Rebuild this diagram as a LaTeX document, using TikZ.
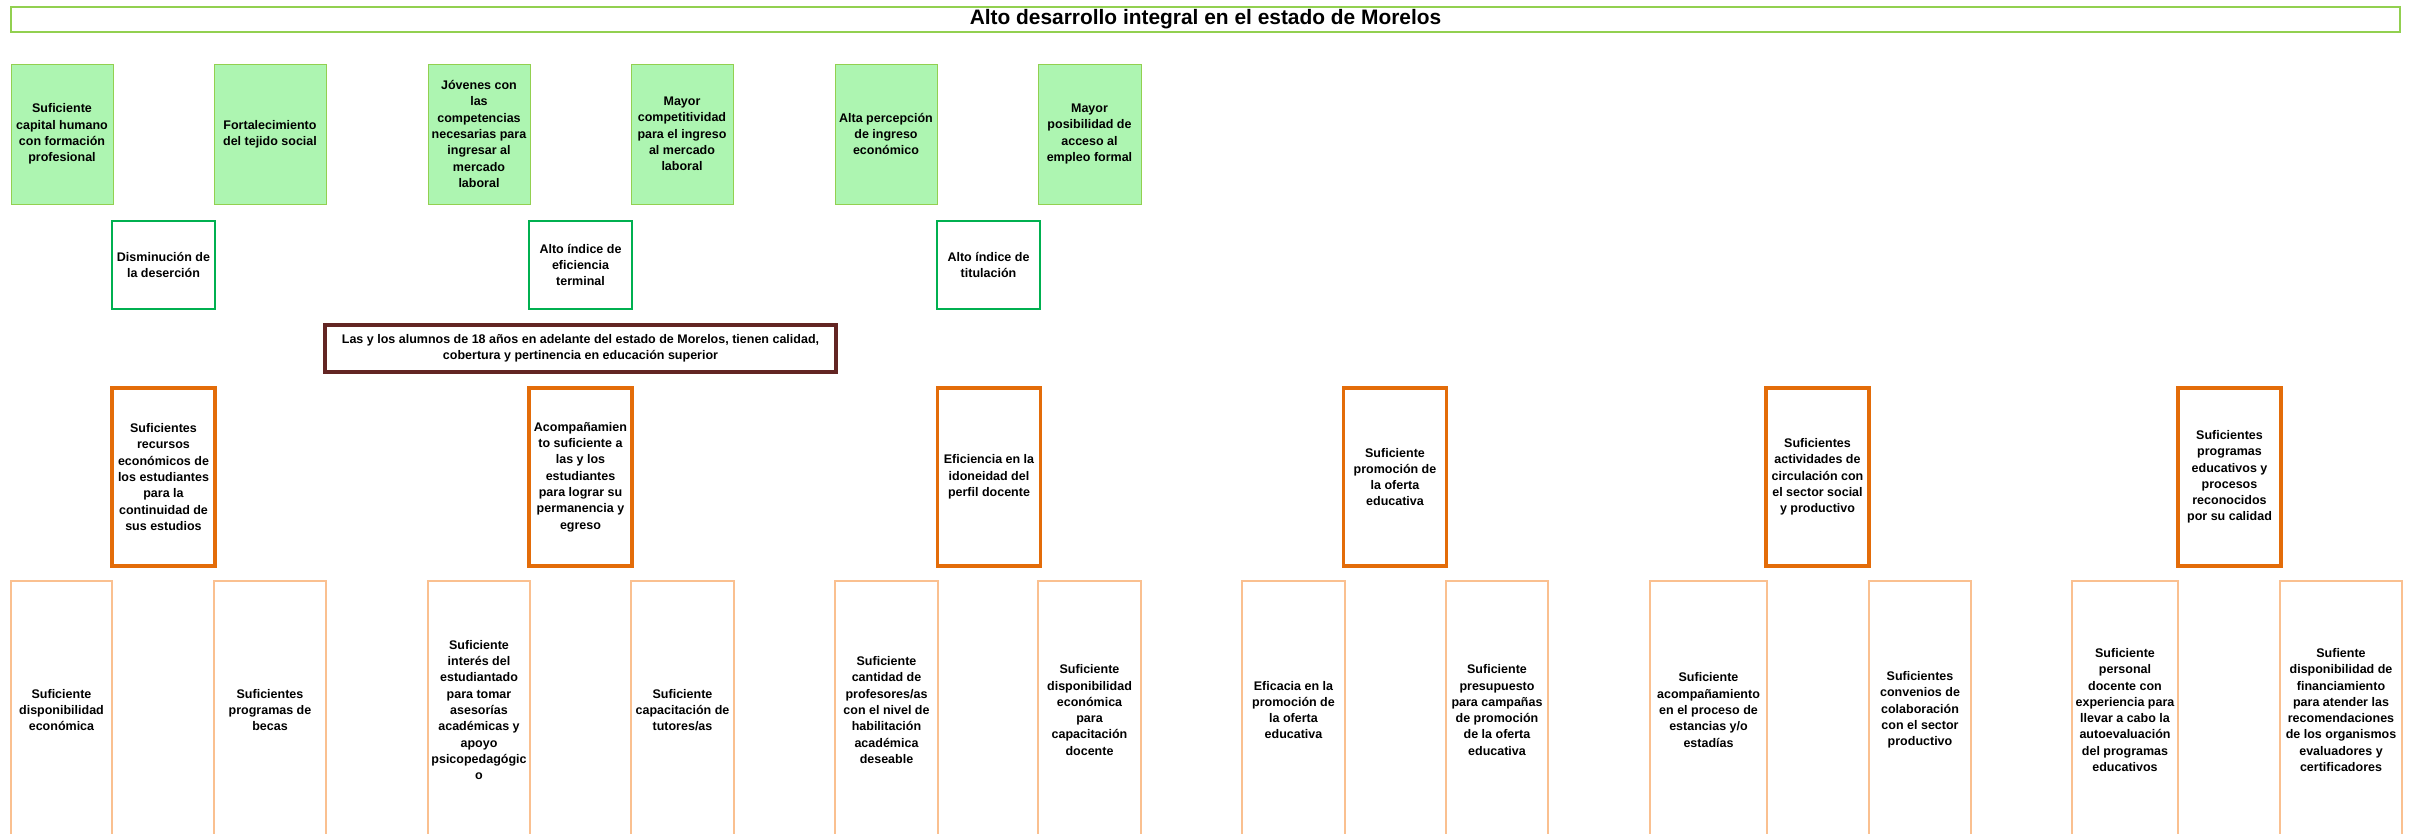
\documentclass[tikz,border=0pt]{standalone}
\usepackage{fontspec}
\setmainfont{Liberation Sans}
\usepackage{tikz}
\definecolor{verdefill}{HTML}{ADF5B1}
\definecolor{verdeline}{HTML}{92D050}
\definecolor{verdeosc}{HTML}{00B050}
\definecolor{naranja}{HTML}{E36C09}
\definecolor{naranjacl}{HTML}{FAC090}
\definecolor{guinda}{HTML}{632523}

\begin{document}
\begin{tikzpicture}[x=1pt,y=-1pt,
txt/.style={font=\fontsize{12.5}{16.3}\selectfont\bfseries,align=center,inner sep=0pt,rectangle},
titulo/.style={draw=verdeline,line width=1.2pt,font=\fontsize{20.9}{24}\selectfont\bfseries,inner sep=0pt},
efecto/.style={txt,draw=verdeline,fill=verdefill,line width=1pt,minimum height=140},
medio/.style={txt,draw=verdeosc,line width=2.8pt,minimum width=103,minimum height=88},
problema/.style={txt,draw=guinda,line width=3.3pt,minimum width=511,minimum height=47},
causa/.style={txt,draw=naranja,line width=3.3pt,minimum width=103,minimum height=178},
sub/.style={txt,draw=naranjacl,line width=1.1pt,minimum height=258}]

\useasboundingbox (0,0) rectangle (2411,833);
\clip (0,0) rectangle (2411,833);

% title
\node[titulo,minimum width=2389,minimum height=25] (tit) at (1205.5,19.5) {Alto desarrollo integral en el estado de Morelos};

% effects
\node[efecto,minimum width=102] (e1) at (62,134) {Suficiente\\capital humano\\con formación\\profesional};
\node[efecto,minimum width=112] (e2) at (270,134) {Fortalecimiento\\del tejido social};
\node[efecto,minimum width=102] (e3) at (479,134) {Jóvenes con\\las\\competencias\\necesarias para\\ingresar al\\mercado\\laboral};
\node[efecto,minimum width=102] (e4) at (682,134) {Mayor\\competitividad\\para el ingreso\\al mercado\\laboral};
\node[efecto,minimum width=102] (e5) at (886,134) {Alta percepción\\de ingreso\\económico};
\node[efecto,minimum width=103] (e6) at (1089.5,134) {Mayor\\posibilidad de\\acceso al\\empleo formal};

% direct effects
\node[medio] (m1) at (163.5,265) {Disminución de\\la deserción};
\node[medio] (m2) at (580.5,265) {Alto índice de\\eficiencia\\terminal};
\node[medio] (m3) at (988.5,265) {Alto índice de\\titulación};

% central problem
\node[problema] (prob) at (580.5,348.5) {Las y los alumnos de 18 años en adelante del estado de Morelos, tienen calidad,\\cobertura y pertinencia en educación superior};

% causes
\node[causa] (c1) at (163.5,477) {Suficientes\\recursos\\económicos de\\los estudiantes\\para la\\continuidad de\\sus estudios};
\node[causa] (c2) at (580.5,477) {Acompañamien\\to suficiente a\\las y los\\estudiantes\\para lograr su\\permanencia y\\egreso};
\node[causa] (c3) at (989,477) {Eficiencia en la\\idoneidad del\\perfil docente};
\node[causa] (c4) at (1395,477) {Suficiente\\promoción de\\la oferta\\educativa};
\node[causa] (c5) at (1817.5,477) {Suficientes\\actividades de\\circulación con\\el sector social\\y productivo};
\node[causa] (c6) at (2229.5,477) {Suficientes\\programas\\educativos y\\procesos\\reconocidos\\por su calidad};

% sub causes
\node[sub,minimum width=101] (s1) at (61.5,710) {Suficiente\\disponibilidad\\económica};
\node[sub,minimum width=112] (s2) at (270,710) {Suficientes\\programas de\\becas};
\node[sub,minimum width=102] (s3) at (479,710) {Suficiente\\interés del\\estudiantado\\para tomar\\asesorías\\académicas y\\apoyo\\psicopedagógic\\o};
\node[sub,minimum width=103] (s4) at (682.5,710) {Suficiente\\capacitación de\\tutores/as};
\node[sub,minimum width=103] (s5) at (886.5,710) {Suficiente\\cantidad de\\profesores/as\\con el nivel de\\habilitación\\académica\\deseable};
\node[sub,minimum width=103] (s6) at (1089.5,710) {Suficiente\\disponibilidad\\económica\\para\\capacitación\\docente};
\node[sub,minimum width=103] (s7) at (1293.5,710) {Eficacia en la\\promoción de\\la oferta\\educativa};
\node[sub,minimum width=102] (s8) at (1497,710) {Suficiente\\presupuesto\\para campañas\\de promoción\\de la oferta\\educativa};
\node[sub,minimum width=117] (s9) at (1708.5,710) {Suficiente\\acompañamiento\\en el proceso de\\estancias y/o\\estadías};
\node[sub,minimum width=102] (s10) at (1920,710) {Suficientes\\convenios de\\colaboración\\con el sector\\productivo};
\node[sub,minimum width=106] (s11) at (2125,710) {Suficiente\\personal\\docente con\\experiencia para\\llevar a cabo la\\autoevaluación\\del programas\\educativos};
\node[sub,minimum width=122] (s12) at (2341,710) {Sufiente\\disponibilidad de\\financiamiento\\para atender las\\recomendaciones\\de los organismos\\evaluadores y\\certificadores};

\end{tikzpicture}
\end{document}
